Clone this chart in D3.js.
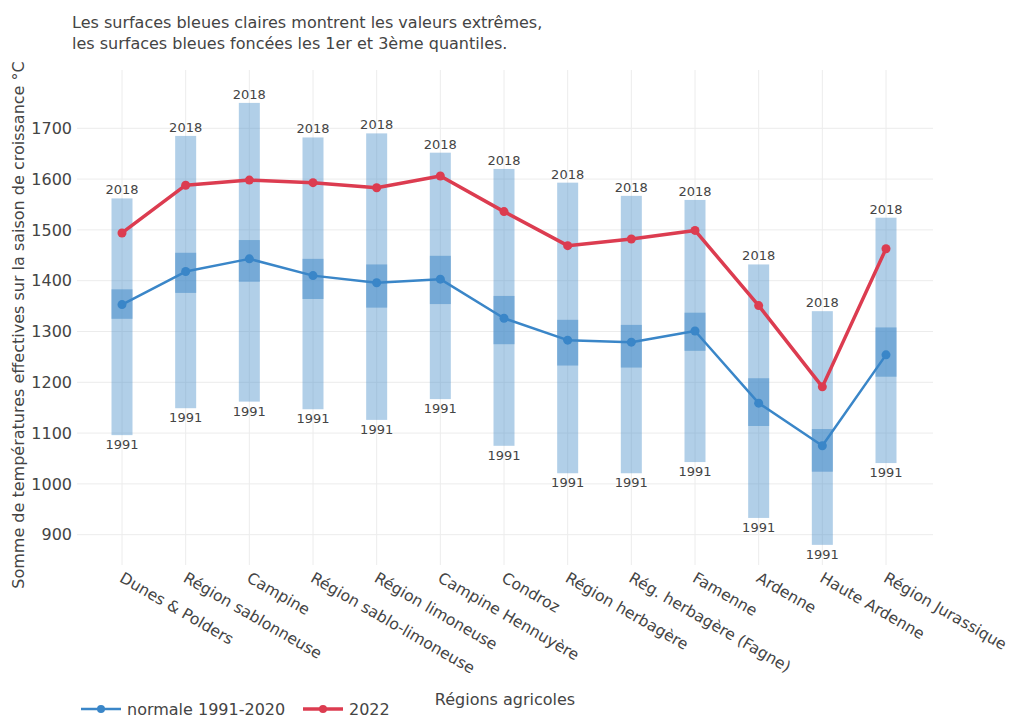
<!DOCTYPE html>
<html>
<head>
<meta charset="utf-8">
<script src="https://cdn.jsdelivr.net/npm/d3@7"></script>
<style>
  html, body { margin: 0; padding: 0; background: #fff; }
  svg text { font-family: "DejaVu Sans", Verdana, sans-serif; fill: #444; }
</style>
</head>
<body>
<svg id="chart" width="1012" height="720"></svg>
<script>
// Agricultural regions
const regions = [
  "Dunes & Polders", "Région sablonneuse", "Campine", "Région sablo-limoneuse",
  "Région limoneuse", "Campine Hennuyère", "Condroz", "Région herbagère",
  "Rég. herbagère (Fagne)", "Famenne", "Ardenne", "Haute Ardenne", "Région Jurassique"
];
// Extremes (min in 1991, max in 2018)
const maxValues = [1562, 1685, 1750, 1682, 1690, 1652, 1620, 1593, 1567, 1559, 1432, 1340, 1524];
const minValues = [1096, 1149, 1162, 1147, 1126, 1167, 1075, 1021, 1021, 1043, 933, 880, 1041];
// Quartiles
const q3Values = [1383, 1455, 1480, 1443, 1432, 1449, 1370, 1323, 1313, 1337, 1208, 1108, 1308];
const q1Values = [1325, 1376, 1398, 1364, 1347, 1354, 1275, 1233, 1229, 1262, 1114, 1024, 1211];
// Normal 1991-2020 and 2022
const normalValues = [1353, 1418, 1443, 1410, 1396, 1403, 1326, 1283, 1279, 1301, 1159, 1075, 1254];
const values2022 = [1494, 1588, 1598, 1593, 1583, 1606, 1536, 1469, 1482, 1499, 1351, 1191, 1463];
const maxYear = "2018";
const minYear = "1991";
const yTicks = [900, 1000, 1100, 1200, 1300, 1400, 1500, 1600, 1700];

const svg = d3.select("#chart");
const plot = { left: 77, right: 933, top: 70, bottom: 565 };

const x = d3.scalePoint().domain(regions).range([122, 886]);
const y = d3.scaleLinear().domain([900, 1700]).range([534.7, 128.3]);
const barW = 21;

const blue = "#3a86c8";
const red = "#dc3c50";

// Grid
const grid = svg.append("g");
grid.selectAll("line.h").data(yTicks).join("line")
  .attr("x1", plot.left).attr("x2", plot.right)
  .attr("y1", d => y(d)).attr("y2", d => y(d))
  .attr("stroke", "#ececec").attr("stroke-width", 1);
grid.selectAll("line.v").data(regions).join("line")
  .attr("x1", d => x(d)).attr("x2", d => x(d))
  .attr("y1", plot.top).attr("y2", plot.bottom)
  .attr("stroke", "#ececec").attr("stroke-width", 1);

// Y axis
const yAxis = svg.append("g")
  .attr("transform", `translate(${plot.left},0)`)
  .call(d3.axisLeft(y).tickValues(yTicks).tickSize(0).tickPadding(5).tickFormat(d3.format("d")));
yAxis.select(".domain").remove();
yAxis.selectAll("text").style("font-size", "16px").attr("fill", "#444");

svg.append("text")
  .attr("transform", "translate(24,325) rotate(-90)")
  .attr("text-anchor", "middle")
  .style("font-size", "16px")
  .text("Somme de températures effectives sur la saison de croissance °C");

// X axis labels
const xAxis = svg.append("g")
  .attr("transform", `translate(0,${plot.bottom})`)
  .call(d3.axisBottom(x).tickSize(0).tickPadding(0));
xAxis.select(".domain").remove();
xAxis.selectAll("text")
  .style("font-size", "15.6px")
  .attr("fill", "#444")
  .attr("text-anchor", "start")
  .attr("dy", null)
  .attr("y", 0)
  .attr("transform", "translate(-4,16) rotate(30)");

svg.append("text")
  .attr("x", 505).attr("y", 705)
  .attr("text-anchor", "middle")
  .style("font-size", "16px")
  .text("Régions agricoles");

// Extreme ranges
svg.append("g").selectAll("rect").data(regions).join("rect")
  .attr("x", d => x(d) - barW / 2)
  .attr("width", barW)
  .attr("y", (d, i) => y(maxValues[i]))
  .attr("height", (d, i) => y(minValues[i]) - y(maxValues[i]))
  .attr("fill", "rgb(70,140,200)").attr("fill-opacity", 0.42);

// Quartile ranges
svg.append("g").selectAll("rect").data(regions).join("rect")
  .attr("x", d => x(d) - barW / 2)
  .attr("width", barW)
  .attr("y", (d, i) => y(q3Values[i]))
  .attr("height", (d, i) => y(q1Values[i]) - y(q3Values[i]))
  .attr("fill", "rgb(70,140,200)").attr("fill-opacity", 0.55);

// Year labels
const labels = svg.append("g").style("font-size", "13px");
labels.selectAll("text.max").data(regions).join("text")
  .attr("x", d => x(d))
  .attr("y", (d, i) => y(maxValues[i]) - 4)
  .attr("text-anchor", "middle")
  .text(maxYear);
labels.selectAll("text.min").data(regions).join("text")
  .attr("x", d => x(d))
  .attr("y", (d, i) => y(minValues[i]) + 14)
  .attr("text-anchor", "middle")
  .text(minYear);

// Lines
function drawSeries(vals, color, width, r) {
  const line = d3.line().x((d, i) => x(regions[i])).y(d => y(d));
  svg.append("path").datum(vals)
    .attr("d", line).attr("fill", "none")
    .attr("stroke", color).attr("stroke-width", width)
    .attr("stroke-linejoin", "round");
  svg.append("g").selectAll("circle").data(vals).join("circle")
    .attr("cx", (d, i) => x(regions[i])).attr("cy", d => y(d))
    .attr("r", r).attr("fill", color);
}
drawSeries(normalValues, blue, 2.5, 4.5);
drawSeries(values2022, red, 3.5, 4.5);

// Subtitle
svg.append("text").attr("x", 72).attr("y", 28).style("font-size", "16px")
  .text("Les surfaces bleues claires montrent les valeurs extrêmes,");
svg.append("text").attr("x", 72).attr("y", 49).style("font-size", "16px")
  .text("les surfaces bleues foncées les 1er et 3ème quantiles.");

// Legend
const legend = svg.append("g").attr("transform", "translate(0,709)");
const items = [
  { label: "normale 1991-2020", color: blue, w: 2.5, x0: 81 },
  { label: "2022", color: red, w: 3.5, x0: 303 }
];
items.forEach(it => {
  legend.append("line").attr("x1", it.x0).attr("x2", it.x0 + 40)
    .attr("stroke", it.color).attr("stroke-width", it.w);
  legend.append("circle").attr("cx", it.x0 + 20).attr("r", 4).attr("fill", it.color);
  legend.append("text").attr("x", it.x0 + 46).attr("y", 6)
    .style("font-size", "16px").text(it.label);
});
</script>
</body>
</html>
